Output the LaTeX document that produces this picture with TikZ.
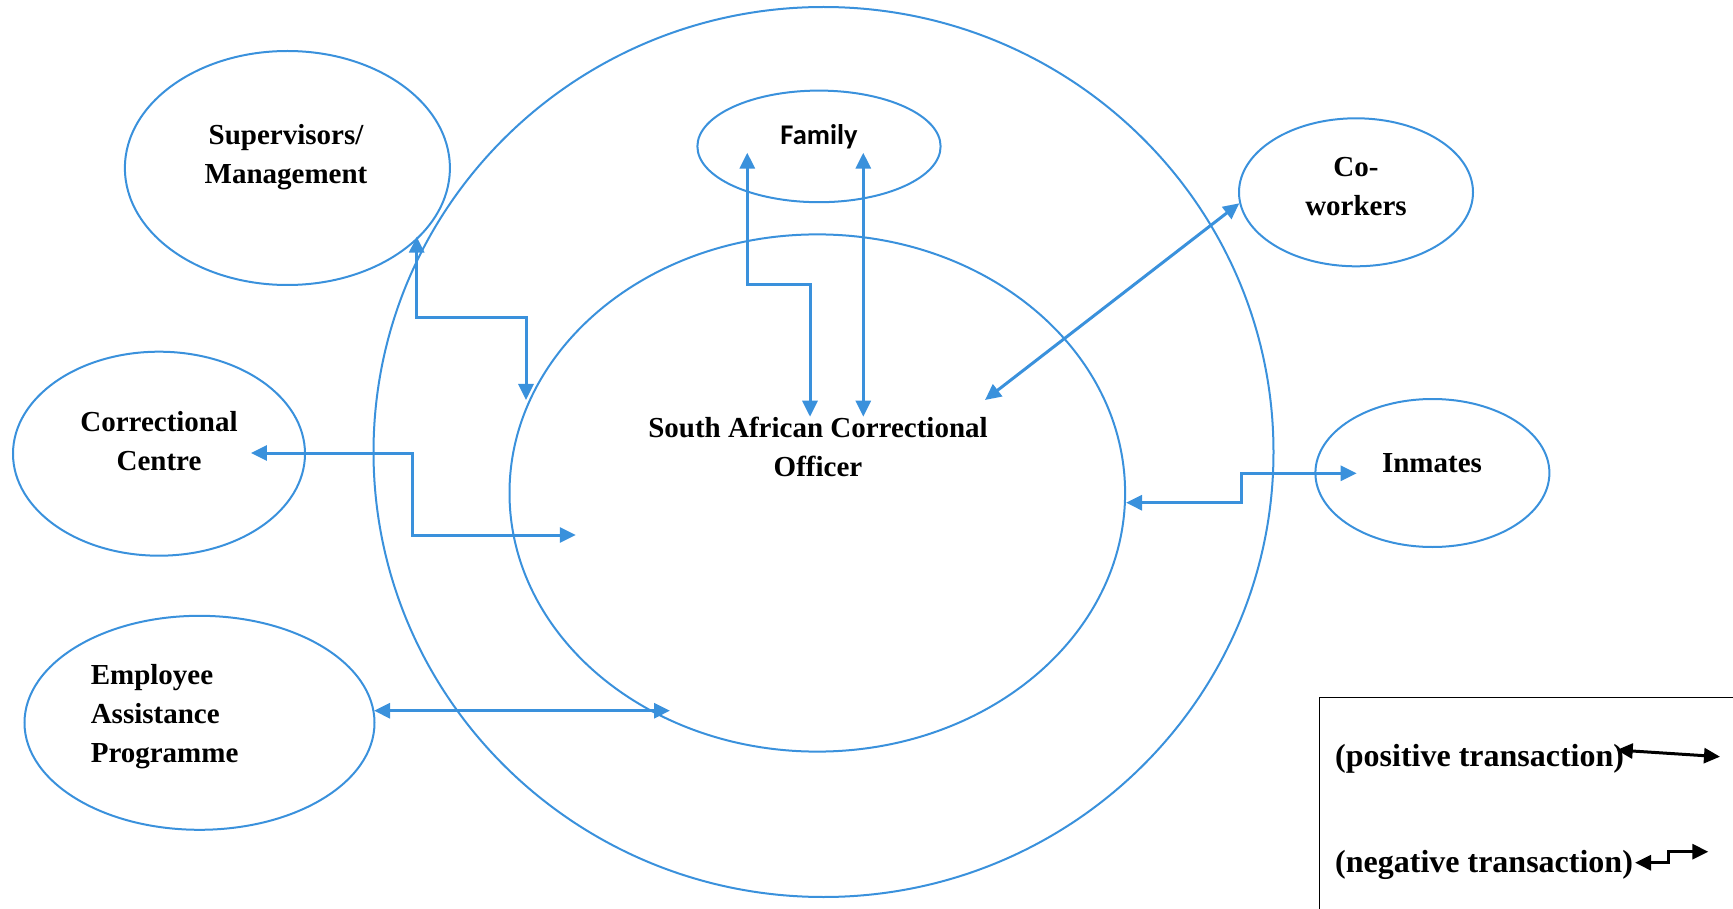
\documentclass[tikz,border=0pt]{standalone}
\usepackage{fontspec}
\setmainfont{Liberation Serif}
\newfontfamily\calfont{Carlito}
\usetikzlibrary{shapes.geometric,arrows.meta}
\definecolor{eblue}{RGB}{58,145,220}
\tikzset{
  ring/.style={draw=eblue,line width=2pt,ellipse,inner sep=0pt},
  lbl/.style={font=\fontsize{29}{39}\selectfont\bfseries,align=center,inner sep=0pt},
  conn/.style={draw=eblue,line width=3pt,{Triangle[length=16pt,width=15pt]}-{Triangle[length=16pt,width=15pt]}},
  legconn/.style={draw=black,line width=3pt,{Triangle[length=16pt,width=15pt]}-{Triangle[length=16pt,width=15pt]}},
}
\begin{document}
\begin{tikzpicture}[x=1pt,y=-1pt]
\useasboundingbox (0,0) rectangle (1733,909);
% ellipses
\node[ring,minimum width=900pt,minimum height=890pt] (outer) at (823.5,452) {};
\node[ring,minimum width=615.6pt,minimum height=517.2pt] (inner) at (817.3,493) {};
\node[ring,minimum width=243.2pt,minimum height=111.6pt] (family) at (819,146.4) {};
\node[ring,minimum width=325pt,minimum height=234pt] (super) at (287.4,168) {};
\node[ring,minimum width=234pt,minimum height=148pt] (cowork) at (1356,192.3) {};
\node[ring,minimum width=292pt,minimum height=204pt] (centre) at (159,453.7) {};
\node[ring,minimum width=234pt,minimum height=148pt] (inmates) at (1432.4,473) {};
\node[ring,minimum width=350pt,minimum height=214pt] (eap) at (199.5,722.8) {};
% labels
\node[lbl] (tsuper) at (286,157.5) {Supervisors/\\Management};
\node[lbl,font=\fontsize{28.5}{34}\selectfont\calfont\bfseries] (tfamily) at (819,137) {Family};
\node[lbl] (tcowork) at (1356,186.5) {Co-\\workers};
\node[lbl] (tcentre) at (159,441.5) {Correctional\\Centre};
\node[lbl] (tsaco) at (818,446.5) {South African Correctional\\Officer};
\node[lbl] (tinmates) at (1432,463) {Inmates};
\node[lbl,align=left,anchor=west] (teap) at (90.6,716.5) {Employee\\Assistance\\Programme};
% connector end points
\coordinate (s1) at (416.7,236.7);
\coordinate (s2) at (526,400);
\coordinate (f1) at (747.3,152.7);
\coordinate (f2) at (810,416.7);
\coordinate (f3) at (863.3,152.7);
\coordinate (f4) at (863.3,416.7);
\coordinate (c1) at (1239.3,203.3);
\coordinate (c2) at (985,400);
\coordinate (r1) at (250.9,453);
\coordinate (r2) at (575.8,535);
\coordinate (i1) at (1126,502.7);
\coordinate (i2) at (1356.7,473.3);
\coordinate (e1) at (374,710.7);
\coordinate (e2) at (670,710.7);
% connectors
\draw[conn] (s1) |- (471,317.3) -| (s2);
\draw[conn] (f1) |- (780,285) -| (f2);
\draw[conn] (f3) -- (f4);
\draw[conn] (c1) -- (c2);
\draw[conn] (r1) -| (412.2,494) |- (r2);
\draw[conn] (i1) -| (1241.7,488) |- (i2);
\draw[conn] (e1) -- (e2);
% legend
\draw[line width=1.5pt] (1745,697.4) -| (1319.6,920);
\node[lbl,font=\fontsize{32}{38}\selectfont\bfseries,anchor=west] (tpos) at (1335,758.5) {(positive transaction)};
\node[lbl,font=\fontsize{32}{38}\selectfont\bfseries,anchor=west] (tneg) at (1335,864.5) {(negative transaction)};
\coordinate (p1) at (1616.7,750);
\coordinate (p2) at (1720,756.7);
\coordinate (n1) at (1635,862.7);
\coordinate (n2) at (1708.3,851.7);
\draw[legconn] (p1) -- (p2);
\draw[legconn] (n1) -| (1668.3,857) |- (n2);
\end{tikzpicture}
\end{document}
